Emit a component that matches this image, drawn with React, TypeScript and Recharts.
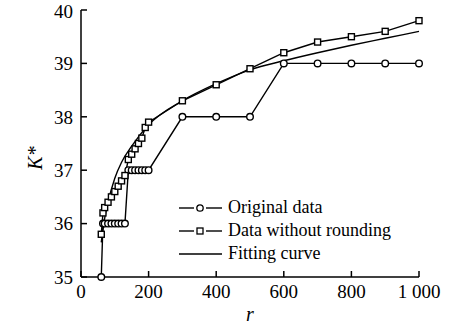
import { LineChart, Line, XAxis, YAxis } from "recharts";

const rValues = [60, 65, 70, 80, 90, 100, 110, 120, 130, 140, 150, 160, 170, 180, 190, 200, 300, 400, 500, 600, 700, 800, 900, 1000];
const originalK = [35, 36, 36, 36, 36, 36, 36, 36, 36, 37, 37, 37, 37, 37, 37, 37, 38, 38, 38, 39, 39, 39, 39, 39];
const unroundedK = [35.8, 36.2, 36.3, 36.4, 36.5, 36.6, 36.7, 36.8, 36.9, 37.2, 37.3, 37.4, 37.5, 37.6, 37.8, 37.9, 38.3, 38.6, 38.9, 39.2, 39.4, 39.5, 39.6, 39.8];

const fitR = [60, 70, 80, 100, 120, 150, 200, 300, 400, 500, 600, 700, 800, 900, 1000];
const fitK = [35.65, 36.1, 36.4, 36.85, 37.15, 37.45, 37.85, 38.3, 38.62, 38.88, 39.05, 39.2, 39.34, 39.47, 39.6];

const xTicks = [0, 200, 400, 600, 800, 1000];
const yTicks = [35, 36, 37, 38, 39, 40];

const FONT = "'Liberation Serif', 'DejaVu Serif', serif";

const originalData = rValues.map((r, i) => ({ r, k: originalK[i] }));
const unroundedData = rValues.map((r, i) => ({ r, k: unroundedK[i] }));
const fitData = fitR.map((r, i) => ({ r, k: fitK[i] }));

const SquareDot = (props: any) => {
  const { cx, cy, index } = props;
  if (cx == null || cy == null) return null;
  return <rect key={`sq-${index}`} x={cx - 3} y={cy - 3} width={6} height={6} fill="#fff" stroke="#000" strokeWidth={1.4} />;
};

const CircleDot = (props: any) => {
  const { cx, cy, index } = props;
  if (cx == null || cy == null) return null;
  return <circle key={`c-${index}`} cx={cx} cy={cy} r={3.3} fill="#fff" stroke="#000" strokeWidth={1.4} />;
};

// legend drawn as an overlay so it doesn't eat into the plot area
const LegendBox = () => {
  const rows = [
    { name: "Original data", mark: "circle" },
    { name: "Data without rounding", mark: "square" },
    { name: "Fitting curve", mark: "none" },
  ];
  return (
    <div style={{ position: "absolute", left: 178, top: 196, fontFamily: FONT, fontSize: 18, color: "#000" }}>
      {rows.map((row) => (
        <div key={row.name} style={{ display: "flex", alignItems: "center", height: 23 }}>
          <svg width={46} height={14} style={{ marginRight: 4 }}>
            {row.mark === "none" ? (
              <line x1={1} y1={7} x2={44} y2={7} stroke="#000" strokeWidth={1.4} />
            ) : (
              <>
                <line x1={1} y1={7} x2={16} y2={7} stroke="#000" strokeWidth={1.4} />
                <line x1={28} y1={7} x2={44} y2={7} stroke="#000" strokeWidth={1.4} />
                {row.mark === "circle" ? (
                  <circle cx={22} cy={7} r={3.2} fill="#fff" stroke="#000" strokeWidth={1.3} />
                ) : (
                  <rect x={19} y={4} width={6} height={6} fill="#fff" stroke="#000" strokeWidth={1.3} />
                )}
              </>
            )}
          </svg>
          <span>{row.name}</span>
        </div>
      ))}
    </div>
  );
};

const YLabel = () => (
  <text x={42} y={158} transform="rotate(-90 42 158)" textAnchor="middle" fill="#000" fontFamily={FONT} fontSize={20} fontStyle="italic">
    K*
  </text>
);

export default function App() {
  return (
    <div style={{ position: "absolute", left: 0, top: 0, width: 458, height: 329, background: "#fff", fontFamily: FONT }}>
      <style>{`.recharts-wrapper text, .recharts-text { font-family: ${FONT} !important; }`}</style>
      <LineChart width={458} height={329} margin={{ top: 10, right: 39, left: 0, bottom: 0 }}>
        <XAxis
          dataKey="r"
          type="number"
          domain={[0, 1000]}
          ticks={xTicks}
          tickFormatter={(v: number) => (v === 1000 ? "1 000" : String(v))}
          height={52}
          stroke="#000"
          strokeWidth={1.5}
          tickSize={-6}
          tickMargin={14}
          tick={{ fill: "#000", fontSize: 19 }}
          allowDuplicatedCategory={false}
          label={{ value: "r", position: "insideBottom", offset: 8, fill: "#000", fontSize: 20, fontStyle: "italic" }}
        />
        <YAxis
          type="number"
          domain={[35, 40]}
          ticks={yTicks}
          width={81}
          stroke="#000"
          strokeWidth={1.5}
          tickSize={-6}
          tickMargin={14}
          tick={{ fill: "#000", fontSize: 19 }}
          label={() => <YLabel />}
        />
        <Line data={fitData} dataKey="k" type="monotone" stroke="#000" strokeWidth={1.4} dot={false} isAnimationActive={false} />
        <Line data={originalData} dataKey="k" type="linear" stroke="#000" strokeWidth={1.4} dot={<CircleDot />} isAnimationActive={false} />
        <Line data={unroundedData} dataKey="k" type="linear" stroke="#000" strokeWidth={1.4} dot={<SquareDot />} isAnimationActive={false} />
      </LineChart>
      <LegendBox />
    </div>
  );
}
